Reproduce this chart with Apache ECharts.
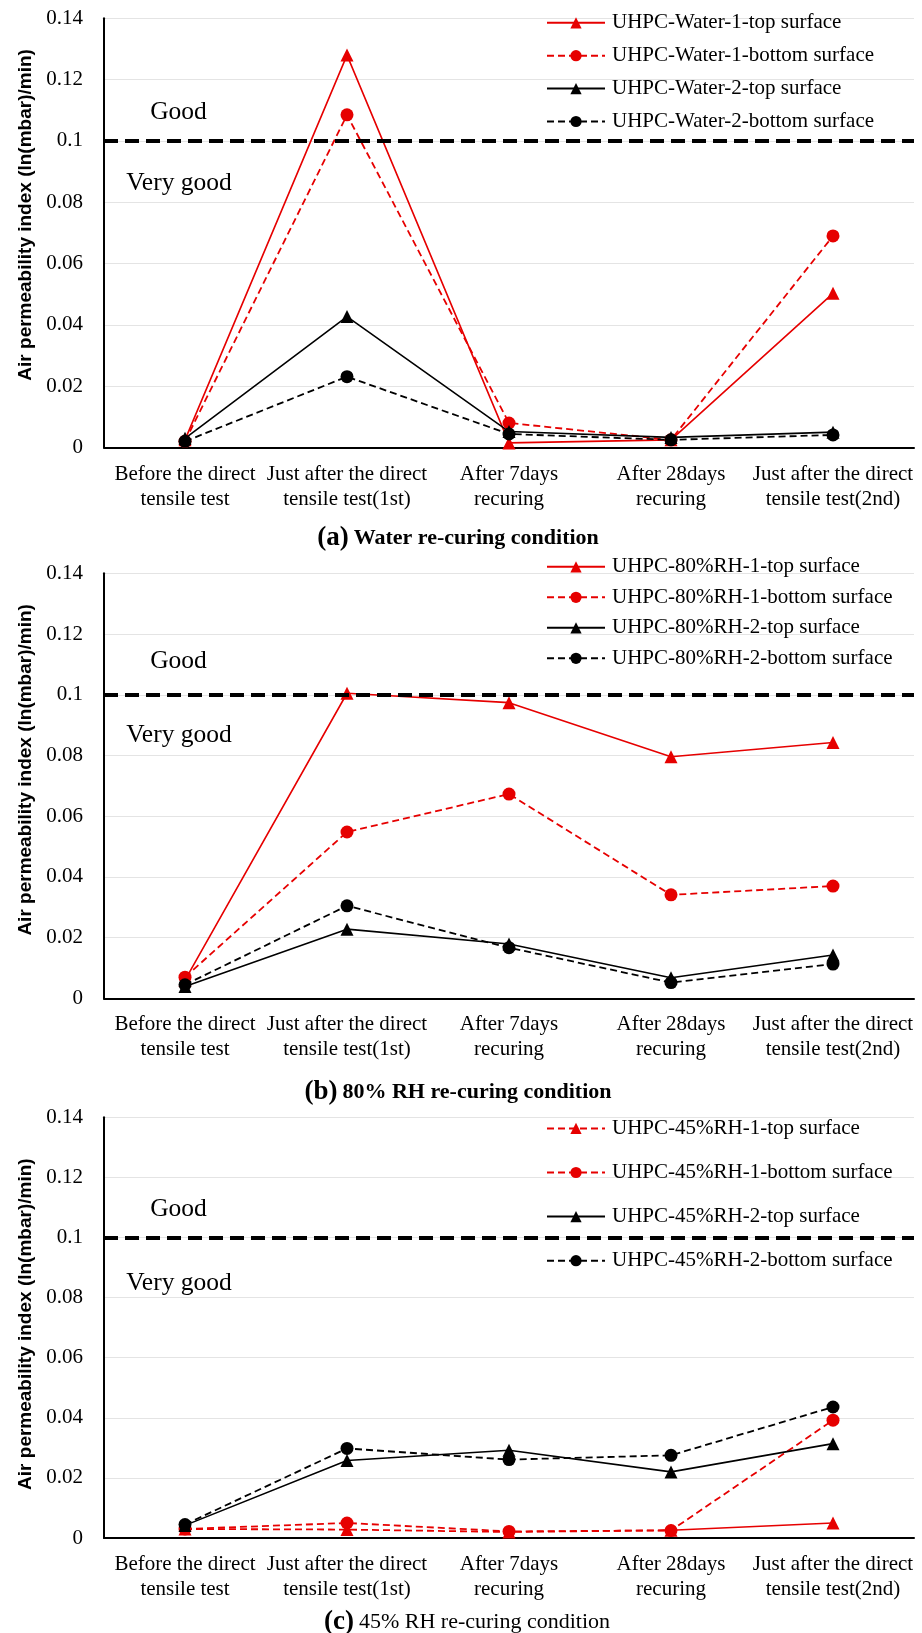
<!DOCTYPE html>
<html>
<head>
<meta charset="utf-8">
<script src="https://cdn.jsdelivr.net/npm/echarts@6/dist/echarts.min.js"></script>
<style>
html,body{margin:0;padding:0;background:#fff;overflow:hidden;}
#chart{width:922px;height:1633px;}
</style>
</head>
<body>
<div id="chart"></div>
<script>
// ---------- data ----------
const categories = [
  'Before the direct\ntensile test',
  'Just after the direct\ntensile test(1st)',
  'After 7days\nrecuring',
  'After 28days\nrecuring',
  'Just after the direct\ntensile test(2nd)'
];
const yAxisName = 'Air permeability index (ln(mbar)/min)';
const yMin = 0, yMax = 0.14, yStep = 0.02;

// (a) Water re-curing
const waterTop1    = [0.0025, 0.1280, 0.0015, 0.0025, 0.0503];
const waterBottom1 = [0.0020, 0.1085, 0.0080, 0.0025, 0.0690];
const waterTop2    = [0.0030, 0.0427, 0.0052, 0.0033, 0.0050];
const waterBottom2 = [0.0020, 0.0231, 0.0044, 0.0025, 0.0041];
// (b) 80% RH re-curing
const rh80Top1     = [0.0060, 0.1005, 0.0974, 0.0796, 0.0843];
const rh80Bottom1  = [0.0070, 0.0548, 0.0673, 0.0341, 0.0370];
const rh80Top2     = [0.0039, 0.0228, 0.0179, 0.0068, 0.0143];
const rh80Bottom2  = [0.0045, 0.0305, 0.0167, 0.0052, 0.0113];
// (c) 45% RH re-curing
const rh45Top1     = [0.0030, 0.0028, 0.0020, 0.0026, 0.0050];
const rh45Bottom1  = [0.0030, 0.0050, 0.0022, 0.0025, 0.0392];
const rh45Top2     = [0.0042, 0.0258, 0.0292, 0.0220, 0.0314];
const rh45Bottom2  = [0.0045, 0.0298, 0.0261, 0.0275, 0.0436];

const thresholds = [0.1008, 0.1008, 0.0995];
const panelNames = [
  ['UHPC-Water-1-top surface','UHPC-Water-1-bottom surface','UHPC-Water-2-top surface','UHPC-Water-2-bottom surface'],
  ['UHPC-80%RH-1-top surface','UHPC-80%RH-1-bottom surface','UHPC-80%RH-2-top surface','UHPC-80%RH-2-bottom surface'],
  ['UHPC-45%RH-1-top surface','UHPC-45%RH-1-bottom surface','UHPC-45%RH-2-top surface','UHPC-45%RH-2-bottom surface']
];
const captions = [
  ['(a)', 'Water re-curing condition'],
  ['(b)', '80% RH re-curing condition'],
  ['(c)', '45% RH re-curing condition']
];
const zoneLabels = ['Good', 'Very good'];

// ---------- styles / layout ----------
const SERIF = '"Liberation Serif","Times New Roman",serif';
const SANS = '"Liberation Sans",Arial,sans-serif';
const RED = '#e60000';
const BLACK = '#000000';

const grids = [
  {left:104, right:8, top:18.3, height:429.2, outerBoundsMode:'none', containLabel:false},
  {left:104, right:8, top:573.3, height:425.1, outerBoundsMode:'none', containLabel:false},
  {left:104, right:8, top:1117.3, height:420.7, outerBoundsMode:'none', containLabel:false}
];
const legendTops = [7.3, 551.3, 1112.9];
const legendGaps = [11.9, 9.5, 23.1];
const captionTops = [520, 1074, 1604];
const captionLefts = [453, 453, 462];
const captionWeights = ['bold', 'bold', 'normal'];
const namePads = [[0,0,0,36],[0,0,0,32],[0,0,0,7]];
const zoneVals = [[0.1095, 0.0862], [0.1109, 0.0868], [0.1093, 0.0849]];

function mkSeries(name, data, color, dashed, symbol, gi, extra) {
  return Object.assign({
    name: name,
    type: 'line',
    xAxisIndex: gi, yAxisIndex: gi,
    data: data,
    symbol: symbol,
    symbolSize: 13,
    showAllSymbol: true,
    connectNulls: false,
    itemStyle: {color: color},
    lineStyle: {color: color, width: dashed ? 1.8 : 1.6, type: dashed ? [7,4] : 'solid'},
    z: 3
  }, extra || {});
}

function decorations(gi) {
  return {
    markLine: {
      silent: true, symbol: 'none',
      label: {show: false},
      lineStyle: {color: '#000', width: 4, type: [14, 7]},
      data: [{yAxis: thresholds[gi]}]
    },
    markPoint: {
      silent: true,
      symbol: 'circle', symbolSize: 0,
      label: {show: true, position: 'inside', color: '#000', fontFamily: SERIF, fontSize: 25.5,
              formatter: p => p.name},
      data: [
        {name: zoneLabels[0], coord: [0, zoneVals[gi][0]], label: {offset: [-6.5, 0]}},
        {name: zoneLabels[1], coord: [0, zoneVals[gi][1]], label: {offset: [-6, 0]}}
      ]
    }
  };
}

const series = [];
// (a)
series.push(mkSeries(panelNames[0][0], waterTop1, RED, false, 'triangle', 0, decorations(0)));
series.push(mkSeries(panelNames[0][1], waterBottom1, RED, true, 'circle', 0));
series.push(mkSeries(panelNames[0][2], waterTop2, BLACK, false, 'triangle', 0));
series.push(mkSeries(panelNames[0][3], waterBottom2, BLACK, true, 'circle', 0));
// (b)
series.push(mkSeries(panelNames[1][0], rh80Top1, RED, false, 'triangle', 1, decorations(1)));
series.push(mkSeries(panelNames[1][1], rh80Bottom1, RED, true, 'circle', 1));
series.push(mkSeries(panelNames[1][2], rh80Top2, BLACK, false, 'triangle', 1));
series.push(mkSeries(panelNames[1][3], rh80Bottom2, BLACK, true, 'circle', 1));
// (c) — top-1 series is dashed up to the 4th point, solid for the last segment
series.push(mkSeries(panelNames[2][0], rh45Top1.map((v,i) => i < 4 ? v : null), RED, true, 'triangle', 2, decorations(2)));
series.push(mkSeries(panelNames[2][0], rh45Top1.map((v,i) => i >= 3 ? v : null), RED, false,
  (val, p) => p.dataIndex === 4 ? 'triangle' : 'none', 2));
series.push(mkSeries(panelNames[2][1], rh45Bottom1, RED, true, 'circle', 2));
series.push(mkSeries(panelNames[2][2], rh45Top2, BLACK, false, 'triangle', 2));
series.push(mkSeries(panelNames[2][3], rh45Bottom2, BLACK, true, 'circle', 2));

const option = {
  animation: false,
  backgroundColor: '#fff',
  grid: grids,
  xAxis: [0,1,2].map(i => ({
    type: 'category', gridIndex: i, data: categories, boundaryGap: true,
    axisLine: {lineStyle: {color: '#000', width: 2}},
    axisTick: {show: false},
    axisLabel: {interval: 0, margin: 14, color: '#000', fontFamily: SERIF, fontSize: 21, lineHeight: 25, hideOverlap: false}
  })),
  yAxis: [0,1,2].map(i => ({
    type: 'value', gridIndex: i, min: yMin, max: yMax, interval: yStep,
    name: yAxisName, nameLocation: 'middle', nameGap: 58,
    nameTextStyle: {fontFamily: SANS, fontWeight: 'bold', fontSize: 19, color: '#000', padding: namePads[i]},
    axisLine: {show: true, lineStyle: {color: '#000', width: 2}},
    axisTick: {show: false},
    axisLabel: {margin: 21, color: '#000', fontFamily: SERIF, fontSize: 21},
    splitLine: {lineStyle: {color: '#e4e4e4', width: 1}}
  })),
  legend: [0,1,2].map(i => ({
    data: panelNames[i],
    orient: 'vertical',
    left: 541, top: legendTops[i],
    itemWidth: 58, itemHeight: 14,
    itemGap: legendGaps[i],
    selectedMode: false,
    textStyle: {fontFamily: SERIF, fontSize: 21, color: '#000', padding: [0,0,0,2]}
  })),
  title: [0,1,2].map(i => ({
    text: '{p|' + captions[i][0] + '} {t|' + captions[i][1] + '}',
    left: captionLefts[i], top: captionTops[i], textAlign: 'center',
    textStyle: {
      rich: {
        p: {fontFamily: SERIF, fontWeight: 'bold', fontSize: 27, color: '#000'},
        t: {fontFamily: SERIF, fontWeight: captionWeights[i], fontSize: 22, color: '#000'}
      }
    }
  })),
  series: series
};

const chart = echarts.init(document.getElementById('chart'), null, {renderer: 'canvas'});
chart.setOption(option);
</script>
</body>
</html>
